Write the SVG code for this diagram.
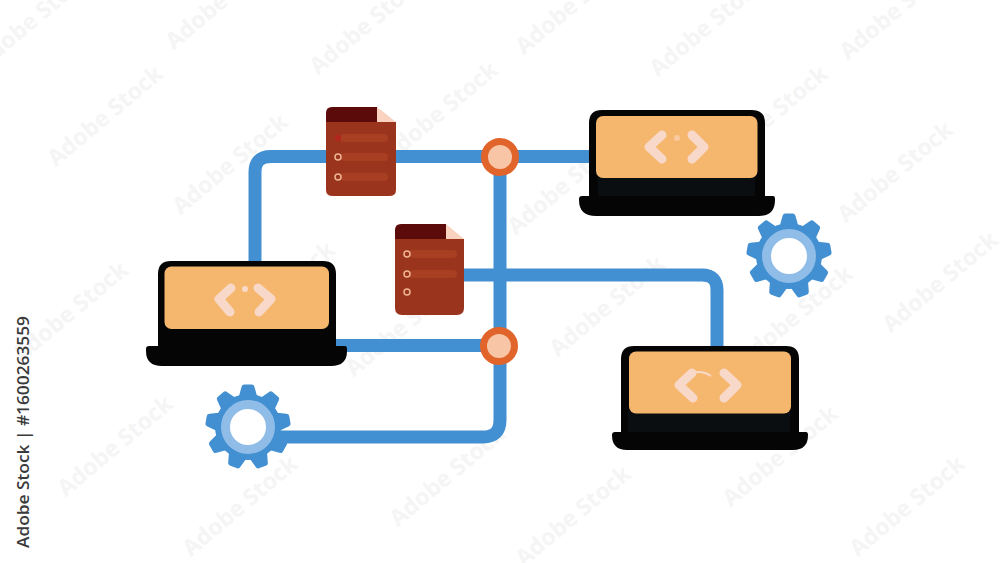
<svg xmlns="http://www.w3.org/2000/svg" xmlns:xlink="http://www.w3.org/1999/xlink" width="1000" height="563" viewBox="0 0 1000 563">
<style>
.wm{font-family:"Open Sans","Liberation Sans",sans-serif;font-size:23px;font-weight:700;fill:#f5f5f5}
.link{fill:none;stroke:#428fd1;stroke-width:13}
.body{fill:#050505}
.band{fill:#0a0e11}
.screen{fill:#f5b76e}
.code{fill:none;stroke:#f8d9c9;stroke-width:9;stroke-linecap:round;stroke-linejoin:round}
.doc{fill:#9b341d}
.tab{fill:#5c0b0b}
.fold{fill:#f9d2c0}
.bar{fill:#a83f22}
.bul{fill:none;stroke:#eeb593;stroke-width:1.500}
.hub{fill:#f8c6a6;stroke:#e1652b;stroke-width:7}
.gear{fill:#428fd1}
.ring{fill:#fff;stroke:#90bde8;stroke-width:9}
</style>
<defs>
<path id="tooth" d="M-9-31L-6.500-40Q-6-42.500-4-42.500H4Q6-42.500 6.500-40L9-31Z"/>
<g id="gearShape" class="gear">
<circle r="33"/>
<use xlink:href="#tooth"/>
<use xlink:href="#tooth" transform="rotate(40)"/>
<use xlink:href="#tooth" transform="rotate(80)"/>
<use xlink:href="#tooth" transform="rotate(120)"/>
<use xlink:href="#tooth" transform="rotate(160)"/>
<use xlink:href="#tooth" transform="rotate(200)"/>
<use xlink:href="#tooth" transform="rotate(240)"/>
<use xlink:href="#tooth" transform="rotate(280)"/>
<use xlink:href="#tooth" transform="rotate(320)"/>
<circle class="ring" r="22.500"/>
</g>
<text id="w" class="wm" text-anchor="middle" transform="rotate(-40)">Adobe Stock</text>
</defs>
<rect width="1000" height="563" fill="#fff"/>
<g id="watermarks">
<use xlink:href="#w" transform="translate(38,25)"/>
<use xlink:href="#w" transform="translate(228,5)"/>
<use xlink:href="#w" transform="translate(372,30)"/>
<use xlink:href="#w" transform="translate(578,10)"/>
<use xlink:href="#w" transform="translate(712,32)"/>
<use xlink:href="#w" transform="translate(902,15)"/>
<use xlink:href="#w" transform="translate(110,122)"/>
<use xlink:href="#w" transform="translate(235,170)"/>
<use xlink:href="#w" transform="translate(445,118)"/>
<use xlink:href="#w" transform="translate(570,190)"/>
<use xlink:href="#w" transform="translate(775,122)"/>
<use xlink:href="#w" transform="translate(900,178)"/>
<use xlink:href="#w" transform="translate(75,318)"/>
<use xlink:href="#w" transform="translate(282,298)"/>
<use xlink:href="#w" transform="translate(408,332)"/>
<use xlink:href="#w" transform="translate(612,312)"/>
<use xlink:href="#w" transform="translate(800,322)"/>
<use xlink:href="#w" transform="translate(945,288)"/>
<use xlink:href="#w" transform="translate(120,452)"/>
<use xlink:href="#w" transform="translate(245,512)"/>
<use xlink:href="#w" transform="translate(452,482)"/>
<use xlink:href="#w" transform="translate(578,522)"/>
<use xlink:href="#w" transform="translate(785,462)"/>
<use xlink:href="#w" transform="translate(912,512)"/>
</g>
<g id="connectors">
<path class="link" d="M255 265V172Q255 156.500 271 156.500H590"/>
<path class="link" d="M500 157V420Q500 437 483 437H280"/>
<path class="link" d="M336 345.500H500"/>
<path class="link" d="M460 275H702Q717 275 717 290V350"/>
</g>
<g id="laptop-left">
<path class="body" d="M158 346V274Q158 261 171 261H323Q336 261 336 274V346H345Q347 346 347 349V351Q347 366 331 366H162Q146 366 146 351V349Q146 346 149 346Z"/>
<rect class="screen" x="164.500" y="266.500" width="164.500" height="62.500" rx="7"/>
<path class="code" d="M231 288L219 299L230 312M258 288L271 299L259 312"/>
<circle cx="245" cy="289" r="3" fill="#f8d9c9"/>
</g>
<g id="laptop-top">
<path class="body" d="M589 196V123Q589 110 602 110H752Q765 110 765 123V196H773Q775 196 775 199V200Q775 216 759 216H596Q579 216 579 200V199Q579 196 582 196Z"/>
<rect class="band" x="598" y="176" width="157" height="20"/>
<rect class="screen" x="596" y="116" width="161.500" height="62" rx="7"/>
<path class="code" d="M662 135L649 147L662 159M692 135L704 147L692 159"/>
<circle cx="677" cy="138" r="3" fill="#f9c9a0"/>
</g>
<g id="laptop-right">
<path class="body" d="M621 432V359Q621 346 634 346H786Q799 346 799 359V432H806Q808 432 808 435V435Q808 450 793 450H627Q612 450 612 435V435Q612 432 615 432Z"/>
<rect class="band" x="628" y="411" width="162" height="21"/>
<rect class="screen" x="629" y="351.500" width="162" height="62" rx="7"/>
<path class="code" d="M692 373L679 385L693 398M724 373L737 385L724 398"/>
<path d="M692 373Q702 370 711 376" fill="none" stroke="#f8d9c9" stroke-width="2"/>
</g>
<g id="doc-top">
<path class="doc" d="M326 122H396V190Q396 196 389 196H333Q326 196 326 190Z"/>
<path class="tab" d="M326 122V113Q326 107 332 107H377V122Z"/>
<path class="fold" d="M377 107L396 122H377Z"/>
<rect class="bar" x="340" y="134" width="48" height="8" rx="4"/>
<rect class="bar" x="340" y="153" width="48" height="8" rx="4"/>
<rect class="bar" x="340" y="173" width="48" height="8" rx="4"/>
<circle cx="338" cy="138" r="3" fill="#b3261e"/>
<circle class="bul" cx="338" cy="157" r="3"/>
<circle class="bul" cx="338" cy="177" r="3"/>
</g>
<g id="doc-mid">
<path class="doc" d="M395 239H464V308Q464 315 457 315H402Q395 315 395 308Z"/>
<path class="tab" d="M395 239V230Q395 224 401 224H446V239Z"/>
<path class="fold" d="M446 224L464 239H446Z"/>
<rect class="bar" x="409" y="250" width="48" height="8" rx="4"/>
<rect class="bar" x="409" y="270" width="48" height="8" rx="4"/>
<circle class="bul" cx="407" cy="254" r="3"/>
<circle class="bul" cx="407" cy="274" r="3"/>
<circle class="bul" cx="407" cy="292" r="3"/>
</g>
<g id="hub-top"><circle class="hub" cx="500" cy="157" r="15.500"/></g>
<g id="hub-bottom"><circle class="hub" cx="499" cy="346" r="15.500"/></g>
<g id="gear-left"><use xlink:href="#gearShape" transform="translate(248,427)"/></g>
<g id="gear-right"><use xlink:href="#gearShape" transform="translate(789,256)"/></g>
<text id="stock-label" transform="translate(29,548) rotate(-90)" font-family="Open Sans, Liberation Sans, sans-serif" font-size="17" font-weight="600" fill="#3a3a3a" textLength="232" lengthAdjust="spacingAndGlyphs">Adobe Stock | #1600263559</text>
</svg>
